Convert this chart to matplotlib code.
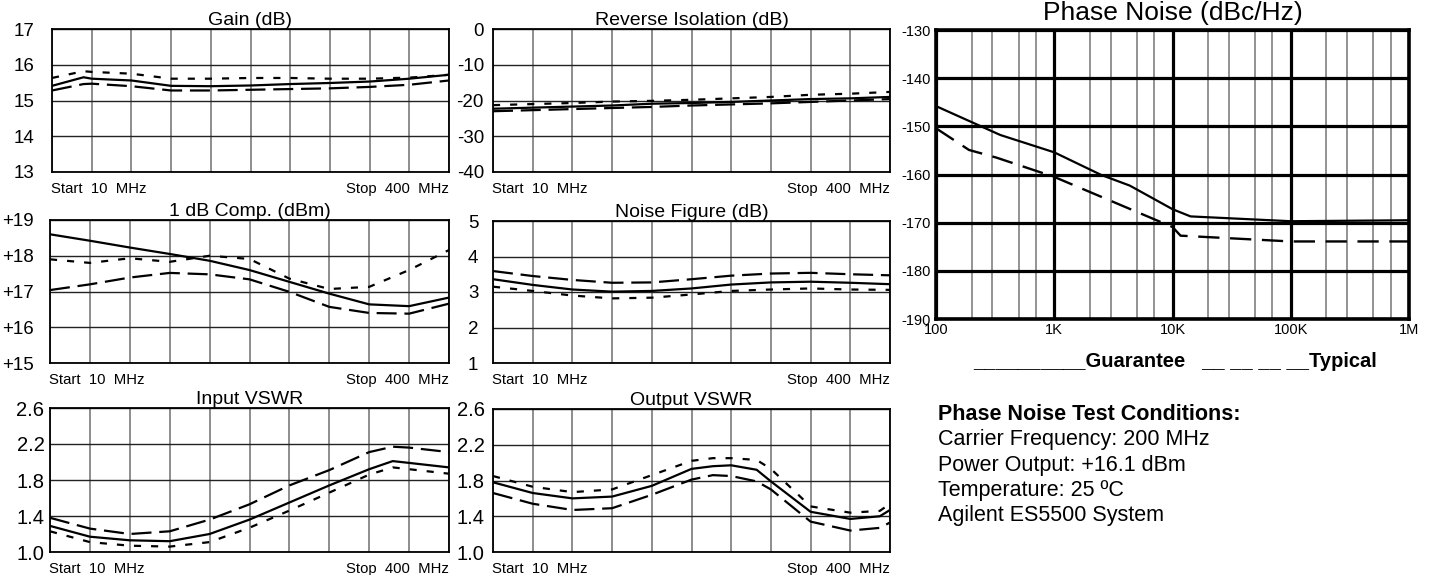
import matplotlib.pyplot as plt
from matplotlib.ticker import LogLocator, NullFormatter

plt.rcParams['font.family'] = ['Liberation Sans', 'DejaVu Sans']

W, H = 1429, 575

# network analyser sweeps, one point per grid division (MHz)
freq = [10, 49, 88, 127, 166, 205, 244, 283, 322, 361, 400]
gain_freq = [10, 41, 49, 88, 127, 166, 205, 244, 283, 322, 361, 400]
in_freq = [10, 49, 88, 127, 166, 205, 244, 283, 322, 345, 361, 400]
out_freq = [10, 49, 88, 127, 166, 205, 226, 244, 269, 283, 322, 361, 390, 400]

gain_solid = [15.41, 15.65, 15.61, 15.56, 15.41, 15.40, 15.42, 15.46, 15.49, 15.53, 15.61, 15.72]
gain_dash = [15.28, 15.46, 15.47, 15.40, 15.28, 15.28, 15.30, 15.32, 15.34, 15.38, 15.44, 15.56]
gain_dot = [15.63, 15.82, 15.80, 15.75, 15.61, 15.61, 15.63, 15.63, 15.61, 15.61, 15.64, 15.72]

iso_solid = [-22.3, -22.0, -21.7, -21.4, -20.9, -20.7, -20.4, -20.0, -19.6, -19.4, -19.0]
iso_dash = [-23.0, -22.7, -22.4, -22.1, -21.8, -21.4, -21.1, -20.8, -20.4, -20.0, -19.6]
iso_dot = [-21.3, -21.0, -20.7, -20.3, -20.1, -19.8, -19.4, -19.0, -18.4, -18.1, -17.6]

comp_solid = [18.60, 18.42, 18.23, 18.05, 17.86, 17.60, 17.27, 16.94, 16.64, 16.59, 16.83]
comp_dash = [17.04, 17.20, 17.39, 17.52, 17.48, 17.34, 16.99, 16.57, 16.40, 16.38, 16.66]
comp_dot = [17.90, 17.80, 17.93, 17.83, 18.00, 17.91, 17.36, 17.07, 17.13, 17.60, 18.16]

nf_solid = [3.36, 3.20, 3.07, 3.01, 3.03, 3.10, 3.21, 3.27, 3.29, 3.26, 3.22]
nf_dash = [3.59, 3.45, 3.34, 3.26, 3.27, 3.36, 3.46, 3.52, 3.54, 3.50, 3.47]
nf_dot = [3.15, 3.03, 2.90, 2.82, 2.84, 2.93, 3.03, 3.07, 3.10, 3.07, 3.06]

invswr_solid = [1.29, 1.17, 1.13, 1.12, 1.20, 1.36, 1.55, 1.74, 1.92, 2.01, 1.99, 1.94]
invswr_dash = [1.38, 1.26, 1.20, 1.23, 1.36, 1.53, 1.74, 1.91, 2.11, 2.17, 2.16, 2.11]
invswr_dot = [1.23, 1.11, 1.07, 1.06, 1.11, 1.27, 1.46, 1.66, 1.86, 1.94, 1.92, 1.87]

outvswr_solid = [1.78, 1.66, 1.60, 1.62, 1.74, 1.93, 1.96, 1.97, 1.92, 1.79, 1.45, 1.37, 1.40, 1.47]
outvswr_dash = [1.66, 1.54, 1.47, 1.49, 1.64, 1.81, 1.86, 1.85, 1.79, 1.70, 1.34, 1.24, 1.27, 1.33]
outvswr_dot = [1.85, 1.73, 1.67, 1.70, 1.86, 2.02, 2.05, 2.05, 2.03, 1.93, 1.51, 1.44, 1.46, 1.54]

# phase noise, offset frequency in Hz
pn_freq_guar = [100, 350, 1000, 2500, 4350, 10000, 14200, 100000, 1000000]
pn_guar = [-145.8, -151.8, -155.4, -160.1, -162.3, -167.2, -168.7, -169.7, -169.5]
pn_freq_typ = [100, 190, 325, 1000, 10000, 11700, 100000, 1000000]
pn_typ = [-150.4, -154.9, -156.5, -160.5, -170.9, -172.7, -173.9, -173.9]
pn_xticks = [100, 1000, 10000, 100000, 1000000]
pn_xlabels = ['100', '1K', '10K', '100K', '1M']
pn_yticks = [-190, -180, -170, -160, -150, -140, -130]

conditions = ['Carrier Frequency: 200 MHz', 'Power Output: +16.1 dBm',
              'Temperature: 25 \u00baC', 'Agilent ES5500 System']

fig = plt.figure(figsize=(W / 100, H / 100), dpi=100)


def px_axes(x0, y0, x1, y1):
    return fig.add_axes([x0 / W, 1 - y1 / H, (x1 - x0) / W, (y1 - y0) / H])


def vna_panel(box, title, x, traces, yticks, ylabels, pad, lsize=13.5):
    ax = px_axes(*box)
    ax.set_xlim(10, 400)
    ax.set_ylim(yticks[0], yticks[-1])
    ax.set_xticks(freq)
    ax.set_xticklabels([])
    ax.set_yticks(yticks)
    ax.set_yticklabels(ylabels, fontsize=lsize)
    ax.tick_params(length=0, pad=pad)
    ax.grid(axis='x', color='#7a7a7a', lw=1.2)
    ax.grid(axis='y', color='#222222', lw=1.0)
    ax.set_axisbelow(True)
    for s in ax.spines.values():
        s.set_linewidth(1.3)
    solid, dash, dot = traces
    ax.plot(x, solid, color='black', lw=1.6)
    ax.plot(x, dash, color='black', lw=1.6, dashes=(9, 3.5))
    ax.plot(x, dot, color='black', lw=1.6, dashes=(3.2, 4.5))
    ax.set_title(title, fontsize=14, pad=2.5)
    ax.annotate('Start  10  MHz', xy=(0, 0), xycoords='axes fraction',
                xytext=(-1, -7), textcoords='offset points', ha='left', va='top', fontsize=10.7)
    ax.annotate('Stop  400  MHz', xy=(1, 0), xycoords='axes fraction',
                xytext=(0, -7), textcoords='offset points', ha='right', va='top', fontsize=10.7)
    return ax


vna_panel((52, 29, 449, 172), 'Gain (dB)', gain_freq, (gain_solid, gain_dash, gain_dot),
          [13, 14, 15, 16, 17], ['13', '14', '15', '16', '17'], 12.5)
vna_panel((493, 29, 890, 172), 'Reverse Isolation (dB)', freq, (iso_solid, iso_dash, iso_dot),
          [-40, -30, -20, -10, 0], ['-40', '-30', '-20', '-10', '0'], 6.5)
vna_panel((50, 220, 449, 363), '1 dB Comp. (dBm)', freq, (comp_solid, comp_dash, comp_dot),
          [15, 16, 17, 18, 19], ['+15', '+16', '+17', '+18', '+19'], 11.5)
vna_panel((493, 221, 890, 363), 'Noise Figure (dB)', freq, (nf_solid, nf_dash, nf_dot),
          [1, 2, 3, 4, 5], ['1', '2', '3', '4', '5'], 10.5)
vna_panel((50, 408, 449, 552), 'Input VSWR', in_freq, (invswr_solid, invswr_dash, invswr_dot),
          [1.0, 1.4, 1.8, 2.2, 2.6], ['1.0', '1.4', '1.8', '2.2', '2.6'], 4, 14.5)
vna_panel((493, 409, 890, 552), 'Output VSWR', out_freq, (outvswr_solid, outvswr_dash, outvswr_dot),
          [1.0, 1.4, 1.8, 2.2, 2.6], ['1.0', '1.4', '1.8', '2.2', '2.6'], 6, 14.5)

# phase noise plot
ax = px_axes(936, 30, 1409, 319)
ax.set_xscale('log')
ax.set_xlim(100, 1000000)
ax.set_ylim(-190, -130)
ax.set_xticks(pn_xticks)
ax.set_xticklabels(pn_xlabels, fontsize=10.5)
ax.xaxis.set_minor_locator(LogLocator(base=10, subs=[2, 3, 5, 7]))
ax.xaxis.set_minor_formatter(NullFormatter())
ax.set_yticks(pn_yticks)
ax.set_yticklabels([str(v) for v in pn_yticks], fontsize=10.5)
ax.tick_params(which='both', length=0)
ax.tick_params(axis='x', pad=3)
ax.tick_params(axis='y', pad=4)
ax.grid(which='major', color='black', lw=2.3)
ax.grid(which='minor', axis='x', color='#808080', lw=1.2)
ax.set_axisbelow(True)
for s in ax.spines.values():
    s.set_linewidth(2.6)
ax.plot(pn_freq_guar, pn_guar, color='black', lw=1.6)
ax.plot(pn_freq_typ, pn_typ, color='black', lw=1.7, dashes=(9, 4.5))
ax.set_title('Phase Noise (dBc/Hz)', fontsize=19, pad=7.5)

fig.text(973 / W, 1 - 367 / H, '__________Guarantee   __ __ __ __Typical',
         fontsize=14.5, fontweight='bold', ha='left', va='baseline')

fig.text(938 / W, 1 - 420 / H, 'Phase Noise Test Conditions:',
         fontsize=15.5, fontweight='bold', ha='left', va='baseline')
for i, line in enumerate(conditions):
    fig.text(938 / W, 1 - (445.5 + 25.3 * i) / H, line,
             fontsize=15.5, ha='left', va='baseline')

fig.savefig('out.png', dpi=100)
